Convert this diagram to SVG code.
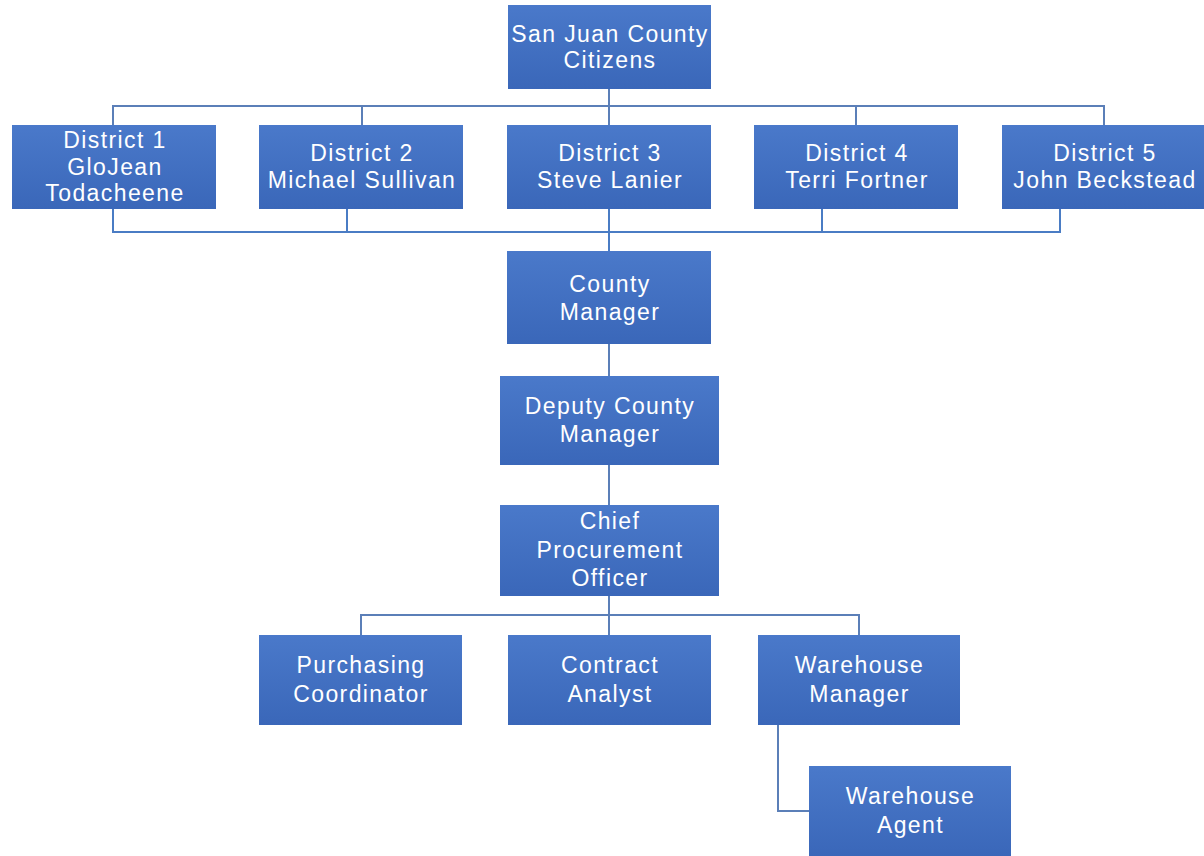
<svg xmlns="http://www.w3.org/2000/svg" width="1204" height="856" viewBox="0 0 1204 856">
  <defs>
    <linearGradient id="boxFill" x1="0" y1="0" x2="0" y2="1">
      <stop offset="0" stop-color="#4a79ca"/>
      <stop offset="1" stop-color="#3a67b9"/>
    </linearGradient>
    <style>
      .box { fill: url(#boxFill); }
      .lbl { fill: #ffffff; font-family: "Liberation Sans", Arial, sans-serif; font-size: 23px; letter-spacing: 1.4px; text-anchor: middle; }
      .link { fill: none; stroke: #5b7fb8; stroke-width: 2; }
      .link2 { fill: none; stroke: #4a7cc4; stroke-width: 2; }
    </style>
  </defs>
  <rect width="1204" height="856" fill="#ffffff"/>

  <!-- connectors -->
  <g id="connectors">
    <!-- citizens to districts -->
    <path class="link" d="M609 89 V125 M113 125 V106 H1104 V125 M362 106 V125 M856 106 V125"/>
    <!-- districts to county manager -->
    <path class="link2" d="M113 209 V232 H1060 V209 M347 209 V232 M822 209 V232 M609 209 V251"/>
    <!-- management chain -->
    <path class="link" d="M609 344 V376 M609 465 V505"/>
    <!-- procurement staff -->
    <path class="link" d="M609 596 V635 M361 635 V615 H859 V635"/>
    <path class="link" d="M778 725 V811 H809"/>
  </g>

  <g id="citizens">
    <rect class="box" x="508" y="5" width="203" height="84"/>
    <text class="lbl" x="610" y="42">San Juan County</text>
    <text class="lbl" x="610" y="68">Citizens</text>
  </g>

  <g id="district1">
    <rect class="box" x="12" y="125" width="204" height="84"/>
    <text class="lbl" x="115" y="148">District 1</text>
    <text class="lbl" x="115" y="175">GloJean</text>
    <text class="lbl" x="115" y="201">Todacheene</text>
  </g>
  <g id="district2">
    <rect class="box" x="259" y="125" width="204" height="84"/>
    <text class="lbl" x="362" y="161">District 2</text>
    <text class="lbl" x="362" y="188">Michael Sullivan</text>
  </g>
  <g id="district3">
    <rect class="box" x="507" y="125" width="204" height="84"/>
    <text class="lbl" x="610" y="161">District 3</text>
    <text class="lbl" x="610" y="188">Steve Lanier</text>
  </g>
  <g id="district4">
    <rect class="box" x="754" y="125" width="204" height="84"/>
    <text class="lbl" x="857" y="161">District 4</text>
    <text class="lbl" x="857" y="188">Terri Fortner</text>
  </g>
  <g id="district5">
    <rect class="box" x="1002" y="125" width="204" height="84"/>
    <text class="lbl" x="1105" y="161">District 5</text>
    <text class="lbl" x="1105" y="188">John Beckstead</text>
  </g>

  <g id="county-manager">
    <rect class="box" x="507" y="251" width="204" height="93"/>
    <text class="lbl" x="610" y="292">County</text>
    <text class="lbl" x="610" y="320">Manager</text>
  </g>
  <g id="deputy-county-manager">
    <rect class="box" x="500" y="376" width="219" height="89"/>
    <text class="lbl" x="610" y="414">Deputy County</text>
    <text class="lbl" x="610" y="442">Manager</text>
  </g>
  <g id="chief-procurement-officer">
    <rect class="box" x="500" y="505" width="219" height="91"/>
    <text class="lbl" x="610" y="529">Chief</text>
    <text class="lbl" x="610" y="558">Procurement</text>
    <text class="lbl" x="610" y="586">Officer</text>
  </g>

  <g id="purchasing-coordinator">
    <rect class="box" x="259" y="635" width="203" height="90"/>
    <text class="lbl" x="361" y="673">Purchasing</text>
    <text class="lbl" x="361" y="702">Coordinator</text>
  </g>
  <g id="contract-analyst">
    <rect class="box" x="508" y="635" width="203" height="90"/>
    <text class="lbl" x="610" y="673">Contract</text>
    <text class="lbl" x="610" y="702">Analyst</text>
  </g>
  <g id="warehouse-manager">
    <rect class="box" x="758" y="635" width="202" height="90"/>
    <text class="lbl" x="859.5" y="673">Warehouse</text>
    <text class="lbl" x="859.5" y="702">Manager</text>
  </g>
  <g id="warehouse-agent">
    <rect class="box" x="809" y="766" width="202" height="90"/>
    <text class="lbl" x="910.5" y="804">Warehouse</text>
    <text class="lbl" x="910.5" y="833">Agent</text>
  </g>
</svg>
